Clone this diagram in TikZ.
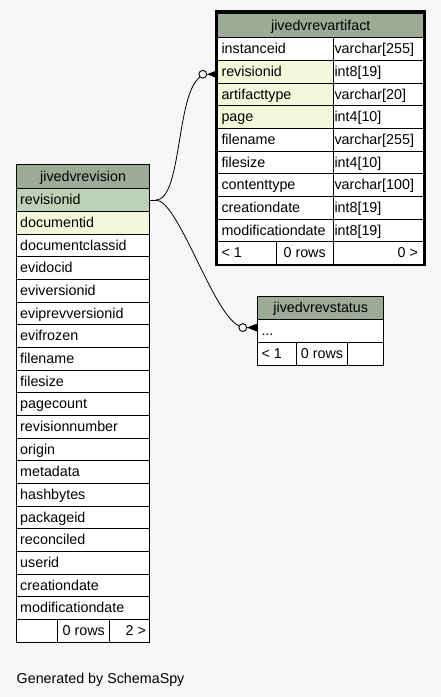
\documentclass[tikz,border=0pt]{standalone}
\usepackage{fontspec}
\setmainfont{Liberation Sans}
\definecolor{bgc}{HTML}{F7F7F7}
\definecolor{hdrc}{HTML}{9BAB96}
\definecolor{pkc}{HTML}{BED1B8}
\definecolor{idxc}{HTML}{F4F7DA}
\newcommand\tabfont{\fontsize{14.3}{16}\selectfont}
\tikzset{
  cellbox/.style={draw=black, line width=0.9pt, inner sep=0pt, anchor=north west, minimum height=22.67pt, fill=white},
  hdrbox/.style={cellbox, fill=hdrc, minimum height=24.3pt},
  celltext/.style={inner sep=0pt, font=\tabfont},
  conn/.style={line width=0.8pt, black},
  endcircle/.style={circle, draw=black, line width=0.9pt, fill=bgc, minimum size=7.8pt, inner sep=0pt},
}
\begin{document}
\begin{tikzpicture}[x=1pt,y=-1pt]
\fill[bgc] (0,0) rectangle (441,697);
\useasboundingbox (0,0) rectangle (441,697);

% ---------- jivedvrevartifact ----------
\node[hdrbox, minimum width=206pt] (ah) at (217.3,13) {};
\node[celltext, anchor=base] (aht) at ([yshift=-4.7pt]ah.center) {jivedvrevartifact};
\foreach \n/\t/\f [count=\i from 0] in {instanceid/varchar[255]/white, revisionid/int8[19]/idxc, artifacttype/varchar[20]/idxc, page/int4[10]/idxc, filename/varchar[255]/white, filesize/int4[10]/white, contenttype/varchar[100]/white, creationdate/int8[19]/white, modificationdate/int8[19]/white} {
  \node[cellbox, fill=\f, minimum width=115.4pt] (an\i) at (217.3,{37.3+\i*22.67}) {};
  \node[cellbox, minimum width=90.6pt] (at\i) at (332.7,{37.3+\i*22.67}) {};
  \node[celltext, anchor=base west] (ann\i) at ([xshift=4pt,yshift=-4.6pt]an\i.west) {\n};
  \node[celltext, anchor=base west] (att\i) at ([xshift=1.6pt,yshift=-4.6pt]at\i.west) {\t};
}
\node[cellbox, minimum width=58.4pt] (af1) at (217.3,241.3) {};
\node[cellbox, minimum width=57pt] (af2) at (275.7,241.3) {};
\node[cellbox, minimum width=90.6pt] (af3) at (332.7,241.3) {};
\node[celltext, anchor=base west] (af1t) at ([xshift=4pt,yshift=-4.6pt]af1.west) {< 1};
\node[celltext, anchor=base] (af2t) at ([yshift=-4.6pt]af2.center) {0 rows};
\node[celltext, anchor=base east] (af3t) at ([xshift=-6pt,yshift=-4.6pt]af3.east) {0 >};
\draw[line width=2.6pt] (216.1,11.6) rectangle (424.6,264.9);

% ---------- jivedvrevision ----------
\node[hdrbox, minimum width=133.3pt] (rh) at (16,164) {};
\node[celltext, anchor=base] (rht) at ([yshift=-4.7pt]rh.center) {jivedvrevision};
\foreach \n/\f [count=\i from 0] in {revisionid/pkc, documentid/idxc, documentclassid/white, evidocid/white, eviversionid/white, eviprevversionid/white, evifrozen/white, filename/white, filesize/white, pagecount/white, revisionnumber/white, origin/white, metadata/white, hashbytes/white, packageid/white, reconciled/white, userid/white, creationdate/white, modificationdate/white} {
  \node[cellbox, fill=\f, minimum width=133.3pt] (rv\i) at (16,{188.3+\i*22.67}) {};
  \node[celltext, anchor=base west] (rvt\i) at ([xshift=4pt,yshift=-4.6pt]rv\i.west) {\n};
}
\node[cellbox, minimum width=41.3pt] (rf1) at (16,619) {};
\node[cellbox, minimum width=52pt] (rf2) at (57.3,619) {};
\node[cellbox, minimum width=40pt] (rf3) at (109.3,619) {};
\node[celltext, anchor=base] (rf2t) at ([yshift=-4.6pt]rf2.center) {0 rows};
\node[celltext, anchor=base east] (rf3t) at ([xshift=-4pt,yshift=-4.6pt]rf3.east) {2 >};

% ---------- jivedvrevstatus ----------
\node[hdrbox, minimum width=126pt, minimum height=23.8pt] (sh) at (257.3,295.5) {};
\node[celltext, anchor=base] (sht) at ([yshift=-4.7pt]sh.center) {jivedvrevstatus};
\node[cellbox, minimum width=126pt] (st0) at (257.3,319.3) {};
\node[celltext, anchor=base west] (st0t) at ([xshift=4pt,yshift=-4.6pt]st0.west) {...};
\node[cellbox, minimum width=38.4pt] (sf1) at (257.3,342) {};
\node[cellbox, minimum width=51.6pt] (sf2) at (295.7,342) {};
\node[cellbox, minimum width=36pt] (sf3) at (347.3,342) {};
\node[celltext, anchor=base west] (sf1t) at ([xshift=4pt,yshift=-4.6pt]sf1.west) {< 1};
\node[celltext, anchor=base] (sf2t) at ([yshift=-4.6pt]sf2.center) {0 rows};

% ---------- connectors ----------
\coordinate (s) at ([xshift=5.7pt]rv0.east);
\draw[conn] (rv0.east) -- (s);
\coordinate (e1) at ([yshift=-2.5pt]an1.west);
\coordinate (e2) at ([yshift=3.5pt]st0.west);
\fill ([xshift=-10.5pt]e1) -- ([yshift=4pt]e1) -- ([yshift=-4pt]e1) -- cycle;
\fill ([xshift=-10.5pt]e2) -- ([yshift=4pt]e2) -- ([yshift=-4pt]e2) -- cycle;
\node[endcircle] (o1) at ([xshift=-14.5pt]e1) {};
\node[endcircle] (o2) at ([xshift=-14.5pt]e2) {};
\draw[conn] (s) .. controls (182,199.6) and (176,95) .. (o1.225);
\draw[conn] (s) .. controls (178,199.6) and (213,314) .. (o2.155);

\node[celltext, anchor=base west] (gen) at (16.5,683.3) {Generated by SchemaSpy};
\end{tikzpicture}
\end{document}
